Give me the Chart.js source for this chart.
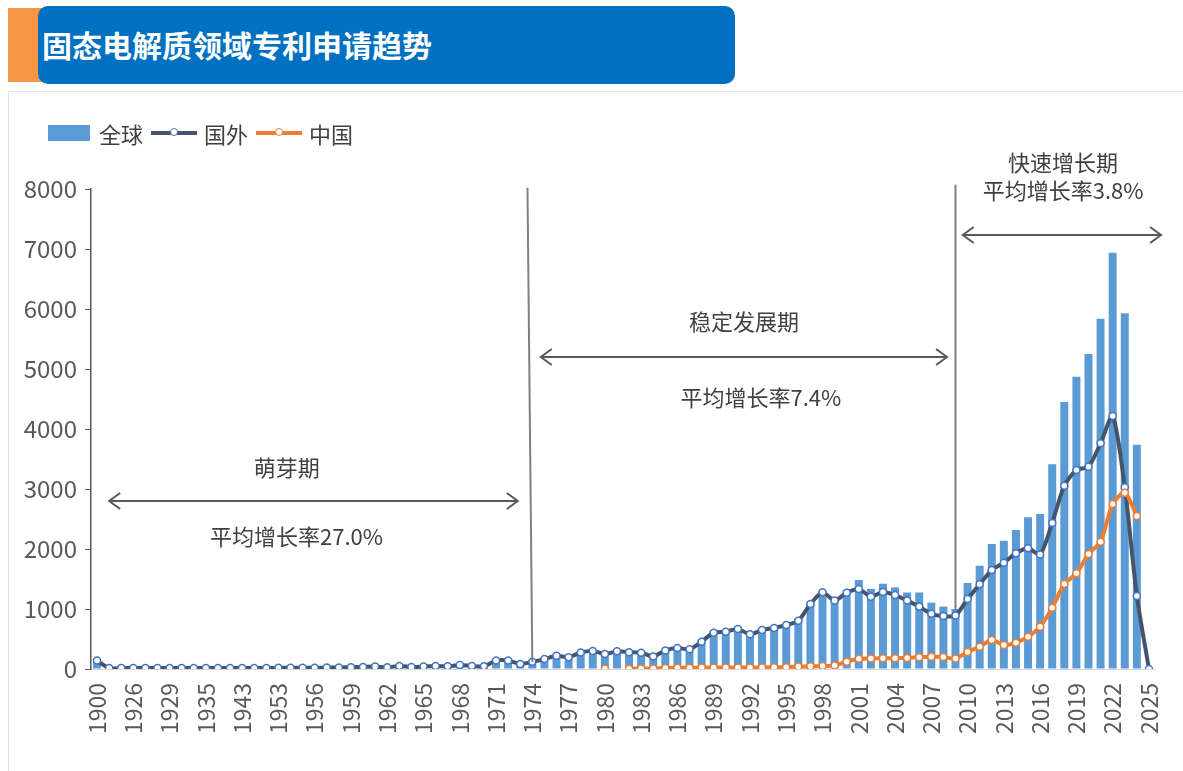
<!DOCTYPE html>
<html>
<head>
<meta charset="utf-8">
<script src="https://cdn.jsdelivr.net/npm/chart.js@4/dist/chart.umd.min.js"></script>
<style>
  body { margin: 0; background: #fff; font-family: "Noto Sans CJK SC", sans-serif; }
  .page { position: relative; width: 1183px; height: 771px; overflow: hidden; }
  .tag { position: absolute; left: 8px; top: 8px; width: 34px; height: 74px; background: #f79646; }
  .head { position: absolute; left: 38px; top: 6px; width: 697px; height: 78px; background: #0070c0;
          border-radius: 10px; color: #fff; font-size: 30px; font-weight: bold; line-height: 76px;
          padding-left: 4px; box-sizing: border-box; }
  .panel { position: absolute; left: 8px; top: 91px; width: 1190px; height: 700px; border: 1px solid #e3e3e3; }
  .box { position: absolute; left: 8px; top: 92px; width: 1175px; height: 679px; }
  .legend { position: absolute; left: 48px; top: 117px; height: 32px; font-size: 22px; color: #404040; display: flex; align-items: center; }
  .legend .sq { width: 42px; height: 16px; background: #5b9bd5; margin-right: 9px; }
  .legend .ln { position: relative; width: 46px; height: 4px; margin: 0 7px 0 8px; }
  .legend .ln i { position: absolute; left: 19px; top: -3px; width: 8px; height: 8px; border-radius: 50%; background: #fff; border: 1.5px solid; box-sizing: border-box; }
</style>
</head>
<body>
<div class="page">
  <div class="tag"></div>
  <div class="head">固态电解质领域专利申请趋势</div>
  <div class="panel"></div>
  <div class="box"><canvas id="trendChart"></canvas></div>
  <div class="legend">
    <span class="sq"></span><span>全球</span>
    <span class="ln" style="background:#44546a"><i style="border-color:#4472c4"></i></span><span>国外</span>
    <span class="ln" style="background:#ed7d31"><i style="border-color:#ed7d31"></i></span><span>中国</span>
  </div>
</div>
<script>
const years = [
  '1900', '1910', '1920', '1926', '1927', '1928', '1929', '1931', '1933', '1935',
  '1937', '1940', '1943', '1947', '1950', '1953', '1954', '1955', '1956', '1957',
  '1958', '1959', '1960', '1961', '1962', '1963', '1964', '1965', '1966', '1967',
  '1968', '1969', '1970', '1971', '1972', '1973', '1974', '1975', '1976', '1977',
  '1978', '1979', '1980', '1981', '1982', '1983', '1984', '1985', '1986', '1987',
  '1988', '1989', '1990', '1991', '1992', '1993', '1994', '1995', '1996', '1997',
  '1998', '1999', '2000', '2001', '2002', '2003', '2004', '2005', '2006', '2007',
  '2008', '2009', '2010', '2011', '2012', '2013', '2014', '2015', '2016', '2017',
  '2018', '2019', '2020', '2021', '2022', '2023', '2024', '2025'
];

const globalTotal = [
  140, 15, 15, 15, 15, 15, 15, 15, 15, 15, 15, 15, 15, 15, 15, 20, 20, 20, 20, 25, 25,
  30, 35, 40, 30, 50, 35, 40, 50, 45, 65,
  50, 45, 140, 140, 85, 125, 170, 225, 200, 280,
  305, 255, 300, 285, 280, 220, 325, 370, 350, 480,
  630, 645, 690, 600, 675, 710, 760, 845, 1125, 1300,
  1150, 1310, 1483, 1336, 1420, 1360, 1275, 1275, 1106, 1040,
  1000, 1435, 1722, 2083, 2139, 2317, 2528, 2583, 3414, 4450,
  4872, 5250, 5839, 6939, 5928, 3739, null
];

const foreign = [
  140, 15, 15, 15, 15, 15, 15, 15, 15, 15, 15, 15, 15, 15, 15, 20, 20, 20, 20, 25, 25,
  30, 35, 40, 30, 50, 35, 40, 50, 45, 65,
  50, 45, 140, 140, 85, 120, 165, 220, 195, 275,
  300, 250, 295, 280, 272, 210, 310, 350, 330, 456,
  606, 622, 667, 578, 650, 683, 733, 806, 1083, 1280,
  1140, 1270, 1333, 1206, 1285, 1233, 1140, 1040, 920, 883,
  890, 1167, 1411, 1650, 1772, 1928, 2011, 1910, 2435, 3056,
  3317, 3372, 3761, 4217, 3028, 1217, 0
];

const china = [
  null, null, null, null, null, null, null, null, null, null, null,
  null, null, null, null, null, null, null, null, null, null,
  null, null, null, null, null, null, null, null, null, null,
  null, null, null, null, null, null, null, null, null, null, null,
  5, null, 5, 8, 10, 15, 20, 20, 25, 25,
  25, 25, 25, 25, 30, 30, 40, 45, 50, 60,
  120, 170, 175, 180, 180, 185, 195, 205, 200, 175,
  285, 372, 483, 400, 439, 539, 705, 1020, 1417, 1594,
  1917, 2122, 2750, 2939, 2550, null
];

const yTicks = [0, 1000, 2000, 3000, 4000, 5000, 6000, 7000, 8000];

// 阶段标注: [起点序号, 终点序号, 纵向数值]
const phases = [
  { name: '萌芽期', rate: '平均增长率27.0%', arrow: [1.0, 34.8, 2800], nameAt: [15.7, 3350], rateAt: [16.5, 2200] },
  { name: '稳定发展期', rate: '平均增长率7.4%', arrow: [36.7, 70.3, 5200], nameAt: [53.5, 5783], rateAt: [54.9, 4517] },
  { name: '快速增长期', rate: '平均增长率3.8%', arrow: [71.6, 88.0, 7233], nameAt: [79.9, 8433], rateAt: [79.9, 7967] }
];
const dividers = [[35.6, 8020, 36, 120], [71, 8070, 71, 980]];

const fontFamily = '"Noto Sans CJK SC", sans-serif';

const phasePlugin = {
  id: 'phases',
  afterDatasetsDraw(chart) {
    const { ctx, scales: { x, y } } = chart;
    ctx.save();
    ctx.strokeStyle = '#808080';
    ctx.lineWidth = 2;
    dividers.forEach(d => {
      ctx.beginPath();
      ctx.moveTo(x.getPixelForValue(d[0]), y.getPixelForValue(d[1]));
      ctx.lineTo(x.getPixelForValue(d[2]), y.getPixelForValue(d[3]));
      ctx.stroke();
    });
    ctx.strokeStyle = '#595959';
    ctx.fillStyle = '#404040';
    ctx.font = '22px ' + fontFamily;
    ctx.textAlign = 'center';
    ctx.textBaseline = 'middle';
    phases.forEach(p => {
      const x1 = x.getPixelForValue(p.arrow[0]);
      const x2 = x.getPixelForValue(p.arrow[1]);
      const ay = y.getPixelForValue(p.arrow[2]);
      ctx.beginPath();
      ctx.moveTo(x1, ay);
      ctx.lineTo(x2, ay);
      ctx.moveTo(x1 + 11, ay - 8);
      ctx.lineTo(x1, ay);
      ctx.lineTo(x1 + 11, ay + 8);
      ctx.moveTo(x2 - 11, ay - 8);
      ctx.lineTo(x2, ay);
      ctx.lineTo(x2 - 11, ay + 8);
      ctx.stroke();
      ctx.fillText(p.name, x.getPixelForValue(p.nameAt[0]), y.getPixelForValue(p.nameAt[1]));
      ctx.fillText(p.rate, x.getPixelForValue(p.rateAt[0]), y.getPixelForValue(p.rateAt[1]));
    });
    ctx.restore();
  }
};

const ctx = document.getElementById('trendChart');

new Chart(ctx, {
  type: 'bar',
  data: {
    labels: years,
    datasets: [
      {
        type: 'line',
        label: '中国',
        data: china,
        borderColor: '#ed7d31',
        borderWidth: 4,
        pointRadius: 3.5,
        pointBackgroundColor: '#fff',
        pointBorderColor: '#ed7d31',
        pointBorderWidth: 1.5,
        tension: 0.25,
        spanGaps: false,
        order: 1
      },
      {
        type: 'line',
        label: '国外',
        data: foreign,
        borderColor: '#44546a',
        borderWidth: 4,
        pointRadius: 3.5,
        pointBackgroundColor: '#fff',
        pointBorderColor: '#4472c4',
        pointBorderWidth: 1.5,
        tension: 0.25,
        order: 2
      },
      {
        label: '全球',
        data: globalTotal,
        backgroundColor: '#5b9bd5',
        categoryPercentage: 1,
        barPercentage: 0.66,
        order: 3
      }
    ]
  },
  options: {
    responsive: true,
    maintainAspectRatio: false,
    animation: false,
    layout: { padding: { top: 97, right: 28, bottom: 0, left: 0 } },
    plugins: {
      legend: { display: false },
      tooltip: { enabled: false }
    },
    scales: {
      x: {
        grid: { display: false },
        border: { color: '#d9d9d9', width: 1 },
        afterFit(scale) { scale.height = 102; },
        ticks: {
          autoSkip: false,
          maxRotation: 90,
          minRotation: 90,
          padding: 6,
          color: '#595959',
          font: { size: 23, family: fontFamily },
          callback(value, index) {
            return index % 3 === 0 ? this.getLabelForValue(value) : null;
          }
        }
      },
      y: {
        min: 0,
        max: 8000,
        afterFit(scale) { scale.width = 83; },
        afterBuildTicks(scale) { scale.ticks = yTicks.map(v => ({ value: v })); },
        grid: { drawOnChartArea: false, drawTicks: true, tickLength: 6, color: '#595959' },
        border: { color: '#595959', width: 1.5 },
        ticks: {
          padding: 8,
          color: '#595959',
          font: { size: 24, family: fontFamily },
          callback(value) { return String(value); }
        }
      }
    }
  },
  plugins: [phasePlugin]
});
</script>
</body>
</html>
